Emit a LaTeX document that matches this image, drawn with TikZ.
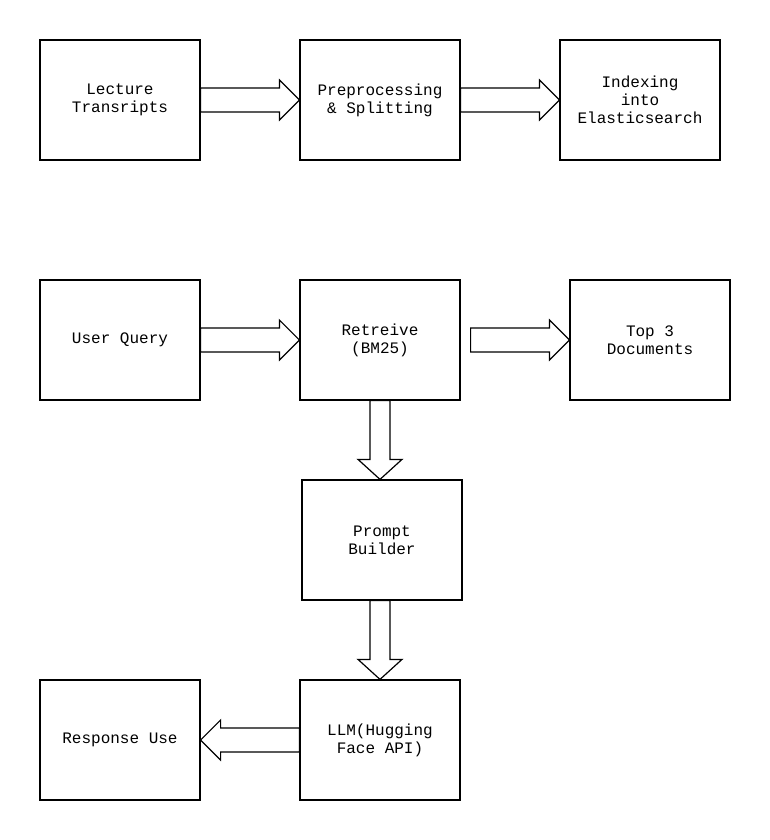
\documentclass[tikz,border=0pt]{standalone}
\usepackage{fontspec}
\setmonofont{Liberation Mono}
\usetikzlibrary{calc,positioning}

% hollow block arrows between node anchors
\newcommand{\harrow}[2]{%
  \path[blockarrow] let \p1=(#1), \p2=(#2), \n1={\x2>\x1 ? 1 : -1} in
    (\x1,\y1+12pt) -- (\x2-\n1*20pt,\y1+12pt) -- (\x2-\n1*20pt,\y1+20pt) -- (\x2,\y1)
    -- (\x2-\n1*20pt,\y1-20pt) -- (\x2-\n1*20pt,\y1-12pt) -- (\x1,\y1-12pt) -- cycle;}
\newcommand{\varrow}[2]{%
  \path[blockarrow] let \p1=(#1), \p2=(#2) in
    (\x1-10pt,\y1) -- (\x1-10pt,\y2+20pt) -- (\x1-22pt,\y2+20pt) -- (\x1,\y2)
    -- (\x1+22pt,\y2+20pt) -- (\x1+10pt,\y2+20pt) -- (\x1+10pt,\y1) -- cycle;}

\begin{document}
\begin{tikzpicture}
	[   x=1pt,y=-1pt,
	    box/.style={draw=black,line width=1.2pt,fill=white,minimum width=160pt,minimum height=120pt,
	        align=center,inner sep=2pt,font=\fontsize{16}{18}\selectfont\ttfamily},
	    blockarrow/.style={draw=black,line width=1.2pt,fill=white},
	]
	\useasboundingbox (0,0) rectangle (770,840);

	\node[box] (lec) at (120,100) {Lecture\\Transripts};
	\node[box] (pre) at (380,100) {Preprocessing\\\& Splitting};
	\node[box] (idx) at (640,100) {Indexing\\into\\Elasticsearch};

	\node[box] (usr) at (120,340) {User Query};
	\node[box] (ret) at (380,340) {Retreive\\(BM25)};
	\node[box] (top) at (650,340) {Top 3\\Documents};

	\node[box] (pro) at (382,540) {Prompt\\Builder};
	\node[box] (llm) at (380,740) {LLM(Hugging\\Face API)};
	\node[box] (res) at (120,740) {Response Use};

	\harrow{lec.east}{pre.west}
	\harrow{pre.east}{idx.west}
	\harrow{usr.east}{ret.west}
	\harrow{$(ret.east)+(10,0)$}{top.west}
	\varrow{ret.south}{$(pro.north)+(-2,0)$}
	\varrow{$(pro.south)+(-2,0)$}{llm.north}
	\harrow{llm.west}{res.east}
\end{tikzpicture}
\end{document}
